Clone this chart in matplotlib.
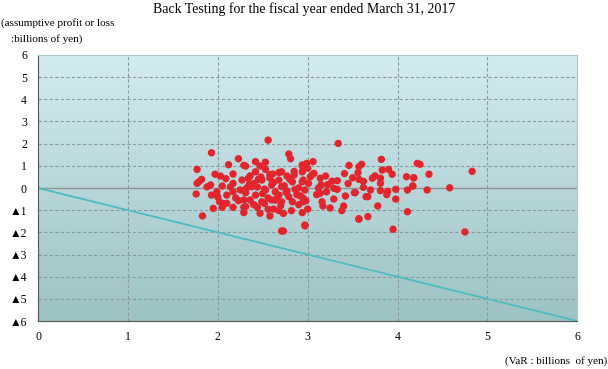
import numpy as np
import matplotlib
matplotlib.use('Agg')
import matplotlib.pyplot as plt
from matplotlib.colors import LinearSegmentedColormap

plt.rcParams['font.family'] = ['Liberation Serif', 'DejaVu Sans']

# VaR (billions of yen) vs. assumptive profit or loss
var_x = [
    4.22, 4.25, 4.18, 4.35, 4.17, 4.33, 4.58, 4.83, 4.75,
    3.82, 3.60, 3.57, 3.56, 3.57, 3.83, 3.90, 3.94, 3.72, 3.81, 3.81, 4.10, 4.18, 4.17,
    3.53, 3.62, 3.70, 3.81, 3.89, 3.98, 4.11, 3.98, 3.65, 3.67, 3.78, 4.11, 3.57, 3.67, 3.95,
    3.34, 3.06, 2.99, 2.94, 3.00, 3.07, 2.94, 3.03, 3.14, 3.20, 3.46, 3.41, 3.50, 3.27, 3.33,
    2.95, 3.01, 3.15, 3.29, 3.33, 3.21, 3.14, 2.97, 3.52, 3.42, 3.29, 2.95, 2.98, 3.16, 3.17,
    3.40, 3.38, 3.00, 2.94, 3.57, 2.97,
    2.56, 2.79, 2.81, 2.42, 2.53, 2.47, 2.31, 2.42, 2.53, 2.71, 2.77, 2.85, 2.94, 2.61, 2.34,
    2.45, 2.49, 2.68, 2.83, 2.94, 2.60, 2.71, 2.38, 2.53, 2.64, 2.77, 2.86, 2.31, 2.42, 2.68,
    2.79, 2.92, 2.36, 2.49, 2.60, 2.71, 2.83, 2.95, 2.44, 2.56, 2.68, 2.82, 2.31, 2.47, 2.58,
    2.71, 2.73, 2.97,
    1.93, 1.77, 2.23, 2.12, 2.29, 1.97, 2.03, 2.09, 2.17, 2.17, 2.27, 1.79, 1.82, 1.77, 1.92,
    2.05, 1.99, 1.93, 1.76, 2.10, 2.17, 2.25, 2.32, 2.02, 2.10, 2.23, 2.29, 1.95, 2.05, 2.17,
    2.29, 2.29, 1.83,
    2.40, 2.50, 2.58, 2.66, 2.74, 2.88, 2.52, 2.62, 2.70, 2.44, 2.36, 2.90, 2.64, 2.56, 2.76,
    2.48, 2.85, 2.20, 2.14, 2.06, 3.10, 3.05, 3.22, 2.90, 2.58, 2.68, 2.40, 2.80, 3.25, 3.12,
    2.00, 1.88, 2.62, 2.73, 2.52, 2.35, 3.45, 3.62, 3.75, 3.88,
]
pl_y = [
    1.11, 1.07, 0.46, 0.62, 0.09, -0.09, 0.01, 0.75, -1.98,
    1.29, 1.07, 0.96, 0.69, 0.39, 0.81, 0.84, 0.62, 0.44, 0.44, 0.21, 0.51, 0.46, 0.09,
    -0.21, 0.03, -0.09, -0.12, -0.15, -0.06, -0.09, -0.50, -0.39, -0.39, -0.81, -1.07, -1.38, -1.29, -1.86,
    2.01, 1.19, 1.11, 1.04, 0.89, 0.66, 0.73, 0.51, 0.44, 0.54, 1.02, 0.65, 0.46, 0.31, 0.33,
    0.36, 0.21, 0.14, -0.01, -0.06, -0.17, -0.24, -0.09, -0.21, -0.36, -0.50, -0.46, -0.57, -0.62, -0.81,
    -0.81, -1.02, -0.95, -1.11, -1.41, -1.71,
    2.16, 1.53, 1.32, 1.19, 1.16, 0.99, 0.99, 0.73, 0.84, 0.73, 0.54, 0.59, 0.99, 0.63, 0.44,
    0.39, 0.36, 0.36, 0.28, 0.28, 0.14, 0.06, 0.06, -0.09, -0.17, -0.14, -0.06, -0.21, -0.32, -0.32,
    -0.39, -0.36, -0.54, -0.62, -0.54, -0.62, -0.62, -0.62, -0.87, -0.96, -1.02, -1.02, -0.84, -1.14, -1.26,
    -1.94, -1.94, -1.67,
    1.59, 0.84, 1.32, 1.05, 1.02, 0.62, 0.54, 0.42, 0.63, 0.21, 0.36, 0.28, 0.39, 0.21, 0.14,
    0.09, -0.17, -0.32, -0.27, -0.32, -0.17, -0.09, -0.01, -0.62, -0.69, -0.57, -0.54, -0.92, -0.87, -0.87,
    -0.87, -1.11, -1.26,
    0.20, -0.25, 0.45, -0.45, 0.10, -0.30, -0.70, 0.25, -0.80, 0.05, 0.55, 0.00, -0.55, -0.45, -0.20,
    0.50, 0.75, -0.45, 0.05, -0.70, -0.30, 0.60, 0.15, -0.75, 0.60, 0.70, -0.75, 0.40, -0.90, 0.00,
    -0.40, 0.05, -0.95, -1.15, -0.05, 0.15, 0.20, 0.30, 0.55, -0.30,
]

var_line = [0, 6]
limit_line = [0, -6]

x_ticks = [0, 1, 2, 3, 4, 5, 6]
y_ticks = [6, 5, 4, 3, 2, 1, 0, -1, -2, -3, -4, -5, -6]
y_labels = ['6', '5', '4', '3', '2', '1', '0', '▲1', '▲2', '▲3', '▲4', '▲5', '▲6']

fig = plt.figure(figsize=(6.08, 3.69), dpi=100)
ax = fig.add_axes([0.0625, 0.130, 0.887, 0.721])

# gradient background
cmap = LinearSegmentedColormap.from_list('bg', ['#d4ebf1', '#9dc2c3'])
grad = np.linspace(0, 1, 256).reshape(-1, 1)
ax.imshow(grad, cmap=cmap, aspect='auto', extent=[0, 6, -6, 6], zorder=0, origin='upper')

for v in x_ticks[1:-1]:
    ax.axvline(v, color='#8a9a9c', ls=(0, (3, 2)), lw=0.8, zorder=1)
for v in y_ticks[1:-1]:
    if v == 0:
        ax.axhline(0, color='#8c9496', lw=1.0, zorder=1)
    else:
        ax.axhline(v, color='#8a9a9c', ls=(0, (3, 2)), lw=0.8, zorder=1)

ax.plot(var_line, limit_line, color='#4cbcc0', lw=1.3, zorder=2)
ax.scatter(var_x, pl_y, s=28, color='#e2252d', edgecolors='none', zorder=3)

ax.set_xlim(0, 6)
ax.set_ylim(-6, 6)
ax.set_xticks(x_ticks)
ax.set_yticks(y_ticks)
ax.set_yticklabels(y_labels)
ax.tick_params(axis='y', labelsize=8.5, length=0, pad=8)
ax.tick_params(axis='x', labelsize=8.5, length=0, pad=7)

ax.spines['top'].set_color('#a8c8cc')
ax.spines['right'].set_color('#a8c8cc')
ax.spines['left'].set_color('#555555')
ax.spines['bottom'].set_color('#555555')

fig.text(0.5, 0.995, 'Back Testing for the fiscal year ended March 31, 2017',
         ha='center', va='top', fontsize=10)
fig.text(0.002, 0.952, '(assumptive profit or loss', ha='left', va='top', fontsize=8)
fig.text(0.018, 0.908, ':billions of yen)', ha='left', va='top', fontsize=8)
fig.text(0.998, 0.008, '(VaR : billions  of yen)', ha='right', va='bottom', fontsize=8)

plt.savefig('out.png', dpi=100)
